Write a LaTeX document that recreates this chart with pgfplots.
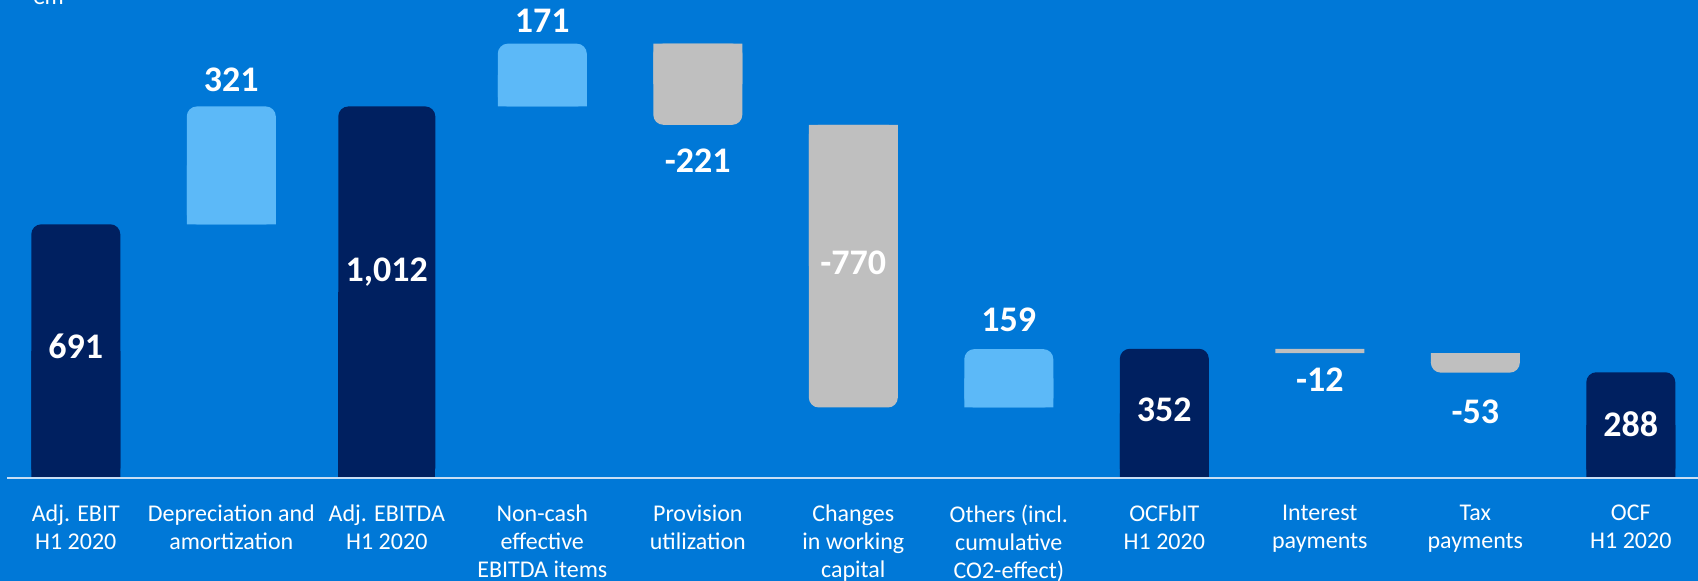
\documentclass[border=0pt]{standalone}
\usepackage{fontspec}
\setmainfont{Carlito}
\usepackage{pgfplots}
\pgfplotsset{compat=1.18}
\usepackage{pgfplotstable}

\definecolor{bg}{RGB}{0,120,215}
\definecolor{navy}{RGB}{0,32,96}
\definecolor{sky}{RGB}{92,185,248}
\definecolor{greybar}{RGB}{191,191,191}
\definecolor{lineclr}{RGB}{200,222,245}

% full bars (rounded ends); interest payments kept square in the second table
\pgfplotstableread{
x base dark darkw light grey
0 0 691 0 0 0
1 691 0 0 321 0
2 0 0 1012 0 0
3 1012 0 0 171 0
4 962 0 0 0 221
5 192 0 0 0 770
6 192 0 0 159 0
7 0 352 0 0 0
8 340 0 0 0 0
9 287 0 0 0 53
10 0 288 0 0 0
}\roundbars

% square halves on the side of the bar that is not rounded
\pgfplotstableread{
x base dark darkw light grey
0 0 345.5 0 0 0
1 691 0 0 160.5 0
2 0 0 506 0 0
3 1012 0 0 85.5 0
4 1072.5 0 0 0 110.5
5 577 0 0 0 385
6 192 0 0 79.5 0
7 0 176 0 0 0
8 340 0 0 0 12
9 313.5 0 0 0 26.5
10 0 144 0 0 0
}\squarebars

\pgfplotstableread{
x y lab
0 326 691
1 1053 321
2 536 1,012
3 1213 171
4 831 -221
5 554 -770
6 400 159
7 153 352
8 235 -12
9 149 -53
10 114 288
}\labtab

\pgfplotsset{wf/.style={
  scale only axis, width=845.5pt, height=239pt,
  at={(3.5pt,51.5pt)}, anchor=south west,
  xmin=-0.4424, xmax=10.432, ymin=0, ymax=1302,
  enlargelimits=false, clip=false,
  axis line style={draw=none}, tick style={draw=none},
  xtick=\empty, ytick=\empty}}

\begin{document}
\begin{tikzpicture}
\useasboundingbox (0,0) rectangle (849pt,290.5pt);
\clip (0,0) rectangle (849pt,290.5pt);
\fill[bg] (0,0) rectangle (849pt,290.5pt);
\node[anchor=base west, inner sep=0pt, text=white, font=\fontsize{12}{14}\selectfont] at (16pt,288pt) {€m};

\begin{axis}[wf, ybar stacked, bar width=44.5pt,
  xtick={0,...,10},
  xticklabels={{Adj. EBIT\\H1 2020},{Depreciation and\\amortization},{Adj. EBITDA\\H1 2020},
    {Non-cash\\effective\\EBITDA items},{Provision\\utilization},{Changes\\in working\\capital},
    {Others (incl.\\cumulative\\CO2-effect)},{OCFbIT\\H1 2020},{Interest\\payments},
    {Tax\\payments},{OCF\\H1 2020}},
  xticklabel style={anchor=north, inner sep=0pt, yshift=-13.2pt, align=center,
    text=white, font=\fontsize{12}{14}\selectfont}]
  \addplot[draw=none, fill=none] table[x=x, y=base] {\roundbars};
  \addplot[draw=none, fill=navy, rounded corners=5pt] table[x=x, y=dark] {\roundbars};
  \addplot[draw=none, fill=navy, rounded corners=5pt, bar width=48.5pt] table[x=x, y=darkw] {\roundbars};
  \addplot[draw=none, fill=sky, rounded corners=5pt] table[x=x, y=light] {\roundbars};
  \addplot[draw=none, fill=greybar, rounded corners=5pt] table[x=x, y=grey] {\roundbars};
\end{axis}

\begin{axis}[wf, ybar stacked, bar width=44.5pt]
  \addplot[draw=none, fill=none] table[x=x, y=base] {\squarebars};
  \addplot[draw=none, fill=navy] table[x=x, y=dark] {\squarebars};
  \addplot[draw=none, fill=navy, bar width=48.5pt] table[x=x, y=darkw] {\squarebars};
  \addplot[draw=none, fill=sky] table[x=x, y=light] {\squarebars};
  \addplot[draw=none, fill=greybar] table[x=x, y=grey] {\squarebars};
\end{axis}

\begin{axis}[wf]
  \addplot[lineclr, line width=1pt] coordinates {(-0.4424,0) (10.432,0)};
  \addplot[only marks, mark=none, nodes near coords, point meta=explicit symbolic,
    nodes near coords style={anchor=base, text=white, font=\fontsize{18}{20}\selectfont\bfseries}]
    table[x=x, y=y, meta=lab] {\labtab};
\end{axis}
\end{tikzpicture}
\end{document}
